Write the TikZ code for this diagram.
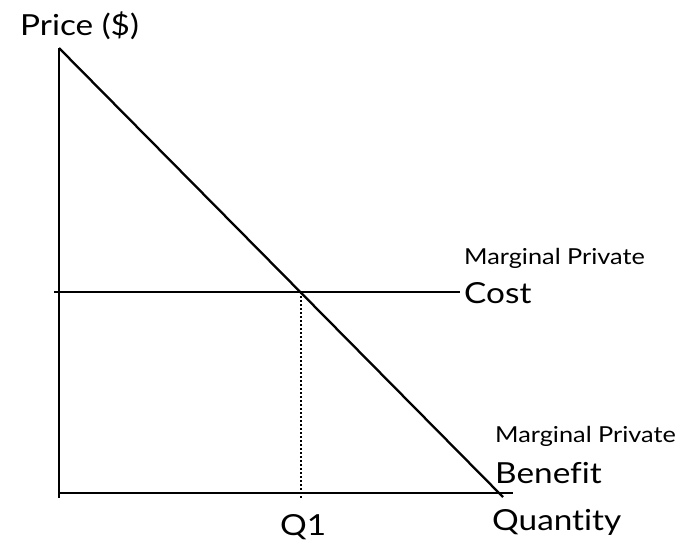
\documentclass[tikz,border=0pt]{standalone}
\usepackage{fontspec}
\setmainfont[FakeStretch=1.15,Ligatures={NoCommon,NoRare,NoDiscretionary}]{Lato}
\begin{document}
\begin{tikzpicture}[x=1pt,y=-1pt,
  axisline/.style={line width=2.5pt,line cap=butt},
  curveline/.style={line width=2.3pt},
  guideline/.style={line width=1.7pt,dash pattern=on 1.7pt off 2.3pt},
  bigtxt/.style={font=\fontsize{29}{32}\selectfont,inner sep=0pt,anchor=base west},
  smalltxt/.style={font=\fontsize{22}{25}\selectfont,inner sep=0pt,anchor=base west}]
\useasboundingbox (0,0) rectangle (683,542);
% axes
\coordinate (ytop) at (59,48);
\coordinate (ybot) at (59,498);
\coordinate (xl) at (59,493);
\coordinate (xr) at (513,493);
\draw[axisline] (ytop) -- (ybot);
\draw[axisline] (xl) -- (xr);
% curves
\coordinate (dtop) at (59,48);
\coordinate (dbot) at (503,497);
\coordinate (hl) at (54,292);
\coordinate (hr) at (460,292);
\coordinate (eq) at (301,292);
\coordinate (eqb) at (301,498);
\draw[curveline] (dtop) -- (dbot);
\draw[curveline] (hl) -- (hr);
\draw[guideline] (eq) -- (eqb);
% labels
\node[bigtxt] (price) at (20,35) {Price (\$)};
\node[smalltxt] (mpc1) at (464,264) {Marginal Private};
\node[bigtxt] (mpc2) at (464,303) {Cost};
\node[smalltxt] (mpb1) at (495,442) {Marginal Private};
\node[bigtxt] (mpb2) at (495,483) {Benefit};
\node[bigtxt] (qty) at (492,530) {Quantity};
\node[bigtxt] (q1) at (280,535) {Q1};
\end{tikzpicture}
\end{document}
